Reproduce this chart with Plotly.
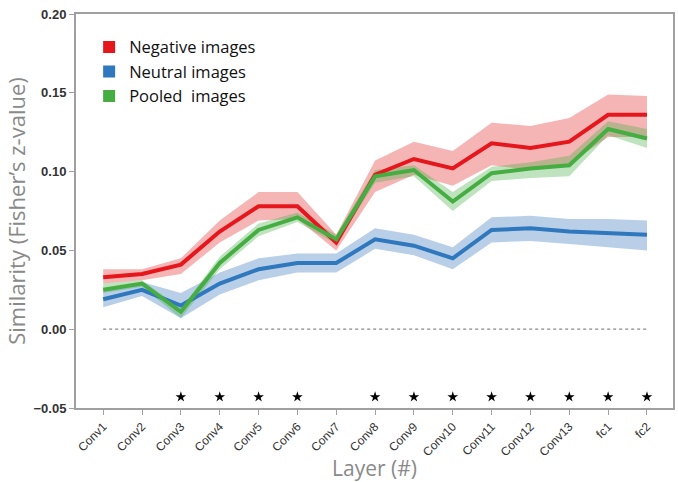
import plotly.graph_objects as go

layers = ["Conv1", "Conv2", "Conv3", "Conv4", "Conv5", "Conv6", "Conv7", "Conv8",
          "Conv9", "Conv10", "Conv11", "Conv12", "Conv13", "fc1", "fc2"]

neg_mean = [0.033, 0.035, 0.041, 0.062, 0.078, 0.078, 0.055, 0.098, 0.108, 0.102, 0.118, 0.115, 0.119, 0.136, 0.136]
neg_low = [0.029, 0.031, 0.035, 0.055, 0.069, 0.070, 0.050, 0.087, 0.098, 0.091, 0.104, 0.101, 0.105, 0.122, 0.122]
neg_high = [0.038, 0.038, 0.045, 0.069, 0.087, 0.087, 0.060, 0.107, 0.119, 0.113, 0.131, 0.129, 0.134, 0.149, 0.148]

neu_mean = [0.019, 0.025, 0.015, 0.029, 0.038, 0.042, 0.042, 0.057, 0.053, 0.045, 0.063, 0.064, 0.062, 0.061, 0.060]
neu_low = [0.014, 0.021, 0.007, 0.022, 0.031, 0.036, 0.036, 0.051, 0.047, 0.038, 0.055, 0.056, 0.054, 0.052, 0.050]
neu_high = [0.024, 0.030, 0.023, 0.036, 0.045, 0.048, 0.048, 0.064, 0.060, 0.052, 0.071, 0.072, 0.070, 0.070, 0.069]

pool_mean = [0.025, 0.029, 0.011, 0.042, 0.063, 0.071, 0.057, 0.097, 0.101, 0.081, 0.099, 0.102, 0.104, 0.127, 0.121]
pool_low = [0.023, 0.027, 0.007, 0.038, 0.059, 0.068, 0.054, 0.093, 0.097, 0.075, 0.094, 0.096, 0.097, 0.123, 0.115]
pool_high = [0.029, 0.031, 0.013, 0.046, 0.067, 0.074, 0.060, 0.101, 0.104, 0.087, 0.103, 0.106, 0.110, 0.132, 0.127]

sig_layers = ["Conv3", "Conv4", "Conv5", "Conv6", "Conv8", "Conv9", "Conv10",
              "Conv11", "Conv12", "Conv13", "fc1", "fc2"]
sig_y = [-0.043] * len(sig_layers)

series_names = ["Negative images", "Neutral images", "Pooled  images"]
line_colors = ["#e5171d", "#2f78bd", "#45ad42"]
fill_colors = ["rgba(232,60,60,0.38)", "rgba(70,130,195,0.38)", "rgba(70,175,70,0.35)"]

fig = go.Figure()

# zero reference line
fig.add_trace(go.Scatter(x=layers, y=[0] * len(layers), mode="lines",
                         line=dict(color="#888888", width=1.2, dash="dot"),
                         showlegend=False, hoverinfo="skip"))

data = [(neu_mean, neu_low, neu_high, 1), (neg_mean, neg_low, neg_high, 0), (pool_mean, pool_low, pool_high, 2)]
for mean, low, high, i in data:
    fig.add_trace(go.Scatter(x=layers, y=high, mode="lines", line=dict(width=0),
                             showlegend=False, hoverinfo="skip"))
    fig.add_trace(go.Scatter(x=layers, y=low, mode="lines", line=dict(width=0),
                             fill="tonexty", fillcolor=fill_colors[i],
                             showlegend=False, hoverinfo="skip"))
for mean, low, high, i in data:
    fig.add_trace(go.Scatter(x=layers, y=mean, mode="lines",
                             line=dict(color=line_colors[i], width=4),
                             showlegend=False))

# legend entries
for i, name in enumerate(series_names):
    fig.add_trace(go.Scatter(x=[None], y=[None], mode="markers", name=name,
                             legendgroup="g%d" % i,
                             marker=dict(symbol="square", size=13, color=line_colors[i])))

# significance stars
fig.add_trace(go.Scatter(x=sig_layers, y=sig_y, mode="markers",
                         marker=dict(symbol="star", size=8, color="black"),
                         showlegend=False))

fig.update_layout(
    width=678, height=482,
    margin=dict(l=76, r=5, t=14, b=74),
    plot_bgcolor="white", paper_bgcolor="white",
    font=dict(family="Liberation Sans, Arial, sans-serif"),
    legend=dict(x=0.022, y=0.96, xanchor="left", yanchor="top",
                traceorder="normal", tracegroupgap=12,
                bgcolor="rgba(0,0,0,0)", font=dict(size=16.5, color="#111111", family="Open Sans, sans-serif"),
                itemsizing="constant"),
    showlegend=True,
)
fig.update_xaxes(
    type="category", range=[-0.7, 14.67], automargin=False,
    showline=True, linecolor="#a0a0a0", linewidth=2, mirror=True,
    ticks="outside", tickcolor="#a0a0a0", ticklen=5,
    tickangle=-45, tickfont=dict(size=12, color="#333333"),
    showgrid=False, zeroline=False,
    title=dict(text="Layer (#)", font=dict(size=21, color="#8a8a8a", family="Open Sans, sans-serif"), standoff=2),
)
fig.update_yaxes(
    range=[-0.05, 0.20], tickvals=[-0.05, 0.0, 0.05, 0.10, 0.15, 0.20],
    tickformat=".2f", automargin=False,
    showline=True, linecolor="#a0a0a0", linewidth=2, mirror=True,
    ticks="outside", tickcolor="#a0a0a0", ticklen=5,
    tickfont=dict(size=13, color="#333333", weight="bold"),
    showgrid=False, zeroline=False,
    title=dict(text="Similarity (Fisher\u2019s z-value)", font=dict(size=22, color="#8a8a8a", family="Open Sans, sans-serif"), standoff=2),
)

fig.write_html("out.html", config={"displayModeBar": False},
               post_script="document.body.style.margin='0px';")
